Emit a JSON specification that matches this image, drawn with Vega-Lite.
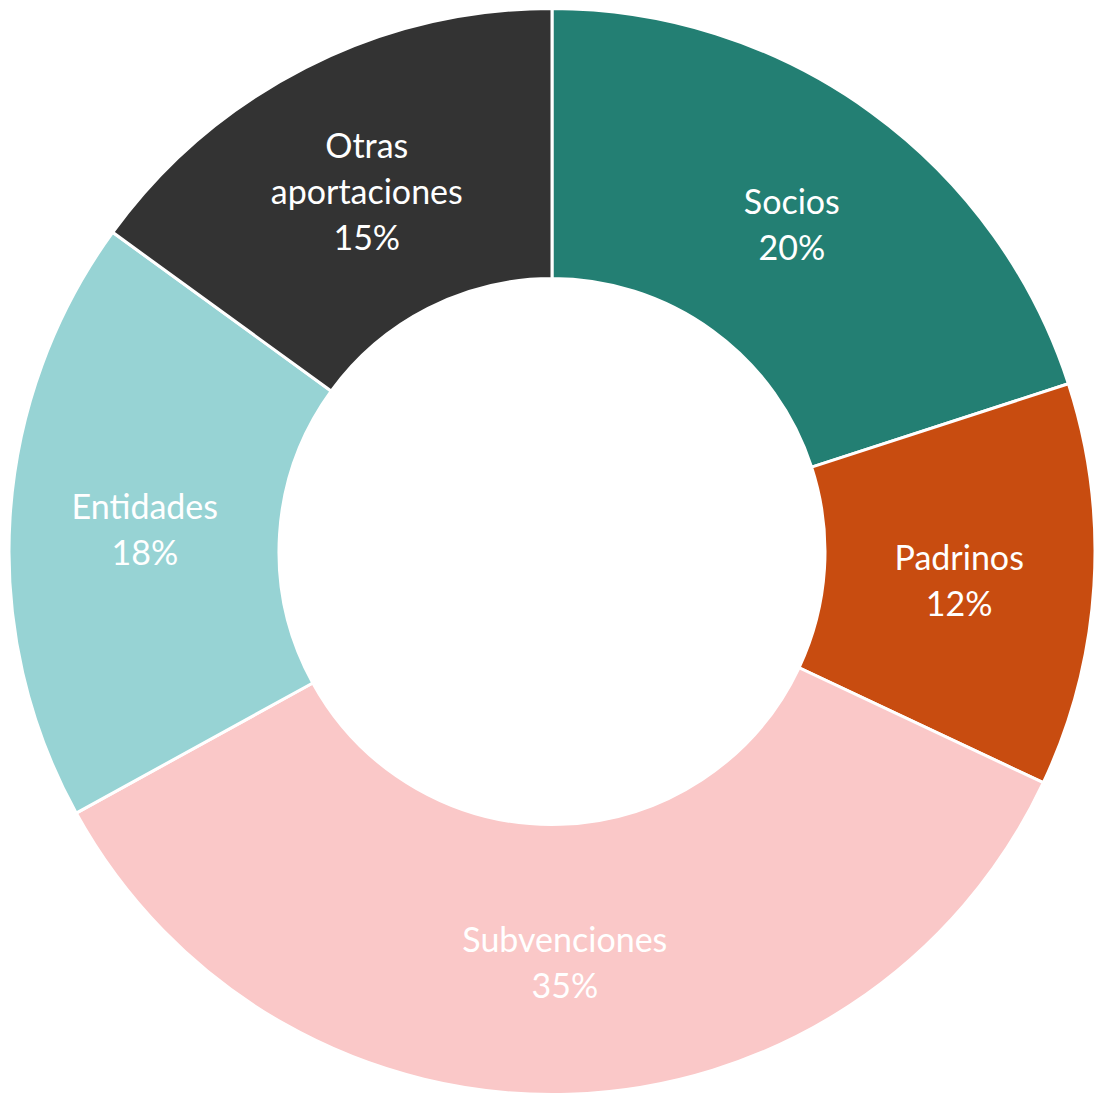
{
  "$schema": "https://vega.github.io/schema/vega-lite/v6.json",
  "width": 1094,
  "height": 1097,
  "autosize": {"type": "fit", "contains": "padding"},
  "padding": {"left": 10, "top": 8, "right": 0, "bottom": 2},
  "background": "white",
  "view": {"stroke": null},
  "data": {
    "values": [
      {"category": "Socios", "value": 20, "order": 1, "label": "Socios\n20%"},
      {"category": "Padrinos", "value": 12, "order": 2, "label": "Padrinos\n12%"},
      {"category": "Subvenciones", "value": 35, "order": 3, "label": "Subvenciones\n35%"},
      {"category": "Entidades", "value": 18, "order": 4, "label": "Entidades\n18%"},
      {"category": "Otras aportaciones", "value": 15, "order": 5, "label": "Otras\naportaciones\n15%"}
    ]
  },
  "encoding": {
    "theta": {"field": "value", "type": "quantitative", "stack": true},
    "order": {"field": "order", "type": "quantitative"},
    "color": {
      "field": "category",
      "type": "nominal",
      "legend": null,
      "scale": {
        "domain": ["Socios", "Padrinos", "Subvenciones", "Entidades", "Otras aportaciones"],
        "range": ["#237F73", "#C84C10", "#FAC8C8", "#97D3D4", "#333333"]
      }
    }
  },
  "layer": [
    {
      "mark": {"type": "arc", "outerRadius": 543, "innerRadius": 273, "stroke": "white", "strokeWidth": 3}
    },
    {
      "mark": {"type": "text", "radius": 408, "dy": -17, "fontSize": 34, "font": "Lato", "lineBreak": "\n", "lineHeight": 46, "align": "center", "baseline": "middle"},
      "encoding": {
        "text": {
          "condition": {"test": "datum.category === 'Otras aportaciones'", "value": ""},
          "field": "label",
          "type": "nominal"
        },
        "color": {"value": "white"}
      }
    },
    {
      "mark": {"type": "text", "radius": 408, "dy": -40, "fontSize": 34, "font": "Lato", "lineBreak": "\n", "lineHeight": 46, "align": "center", "baseline": "middle"},
      "encoding": {
        "text": {
          "condition": {"test": "datum.category !== 'Otras aportaciones'", "value": ""},
          "field": "label",
          "type": "nominal"
        },
        "color": {"value": "white"}
      }
    }
  ]
}
